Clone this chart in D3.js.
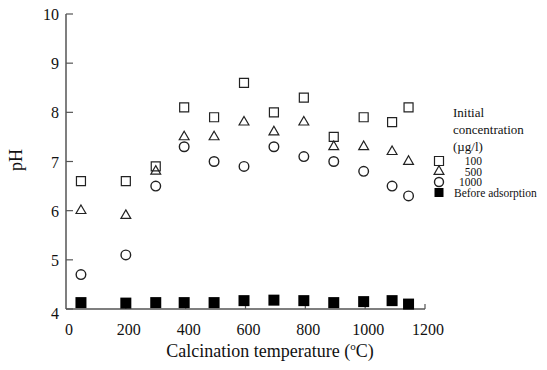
<!DOCTYPE html>
<html lang="en">
<head>
  <meta charset="UTF-8">
  <title>pH vs calcination temperature</title>
  <script src="https://d3js.org/d3.v7.min.js"></script>
  <style>
    body { margin: 0; background: #fff; }
    svg { display: block; }
    .tick-label { font: 16px "Liberation Serif", "Times New Roman", serif; fill: #111; }
    .axis-title { font: 18px "Liberation Serif", "Times New Roman", serif; fill: #111; }
    .legend { font: 13px "Liberation Serif", "Times New Roman", serif; fill: #111; }
    .legend-item { font: 11.5px "Liberation Serif", "Times New Roman", serif; fill: #111; }
  </style>
</head>
<body>
  <script>
    // temperatures (ºC)
    const temps = [50, 200, 300, 395, 495, 595, 695, 795, 895, 995, 1090, 1145];
    // pH after adsorption, by initial concentration (µg/l)
    const ph100  = [6.6, 6.6, 6.9, 8.1, 7.9, 8.6, 8.0, 8.3, 7.5, 7.9, 7.8, 8.1];
    const ph500  = [6.0, 5.9, 6.8, 7.5, 7.5, 7.8, 7.6, 7.8, 7.3, 7.3, 7.2, 7.0];
    const ph1000 = [4.7, 5.1, 6.5, 7.3, 7.0, 6.9, 7.3, 7.1, 7.0, 6.8, 6.5, 6.3];
    const phBefore = [4.13, 4.12, 4.13, 4.13, 4.13, 4.17, 4.18, 4.17, 4.13, 4.15, 4.17, 4.1];
    const xTicks = [0, 200, 400, 600, 800, 1000, 1200];
    const yTicks = [4, 5, 6, 7, 8, 9, 10];
    const legendTitle = ["Initial", "concentration", "(µg/l)"];
    const legendLabels = ["100", "500", "1000", "Before adsorption"];

    const W = 547, H = 370;
    const svg = d3.select("body").append("svg").attr("width", W).attr("height", H);

    const x = d3.scaleLinear().domain([0, 1200]).range([66, 425]);
    const y = d3.scaleLinear().domain([4, 10]).range([309, 14]);

    const axisColor = "#555";

    // axes lines
    svg.append("line").attr("x1", x(0)).attr("x2", x(0)).attr("y1", y(10)).attr("y2", y(4))
      .attr("stroke", axisColor).attr("stroke-width", 1.5);
    svg.append("line").attr("x1", x(0)).attr("x2", x(1200)).attr("y1", y(4)).attr("y2", y(4))
      .attr("stroke", axisColor).attr("stroke-width", 1.5);

    // y ticks (inward)
    svg.append("g").selectAll("line").data(yTicks).join("line")
      .attr("x1", x(0)).attr("x2", x(0) + 7)
      .attr("y1", d => y(d)).attr("y2", d => y(d))
      .attr("stroke", axisColor).attr("stroke-width", 1.2);
    svg.append("g").selectAll("text").data(yTicks).join("text")
      .attr("class", "tick-label")
      .attr("x", x(0) - 7).attr("y", d => y(d) + (d === 4 ? 10 : 6))
      .attr("text-anchor", "end")
      .text(d => d);

    // x ticks (inward)
    svg.append("g").selectAll("line").data(xTicks.slice(1)).join("line")
      .attr("x1", d => x(d)).attr("x2", d => x(d))
      .attr("y1", y(4)).attr("y2", y(4) - 5)
      .attr("stroke", axisColor).attr("stroke-width", 1.2);
    svg.append("g").selectAll("text").data(xTicks).join("text")
      .attr("class", "tick-label")
      .attr("x", d => x(d) + 3).attr("y", 335)
      .attr("text-anchor", "middle")
      .text(d => d);

    // axis titles
    const xt = svg.append("text").attr("class", "axis-title")
      .attr("x", 270).attr("y", 357).attr("text-anchor", "middle");
    xt.append("tspan").text("Calcination temperature (");
    xt.append("tspan").attr("dy", -7).attr("font-size", 11).text("o");
    xt.append("tspan").attr("dy", 7).text("C)");

    svg.append("text").attr("class", "axis-title")
      .attr("transform", `translate(22, 160) rotate(-90)`)
      .attr("text-anchor", "middle")
      .text("pH");

    // markers
    const sq = d3.symbol().type(d3.symbolSquare).size(81);
    const tri = d3.symbol().type(d3.symbolTriangle).size(42);

    const g = svg.append("g");
    g.selectAll(".s100").data(temps).join("path")
      .attr("d", sq)
      .attr("transform", (d, i) => `translate(${x(d)},${y(ph100[i])})`)
      .attr("fill", "#fff").attr("stroke", "#222").attr("stroke-width", 1.2);
    g.selectAll(".s500").data(temps).join("path")
      .attr("d", tri)
      .attr("transform", (d, i) => `translate(${x(d)},${y(ph500[i])})`)
      .attr("fill", "none").attr("stroke", "#222").attr("stroke-width", 1.2);
    g.selectAll(".s1000").data(temps).join("circle")
      .attr("cx", d => x(d)).attr("cy", (d, i) => y(ph1000[i])).attr("r", 4.8)
      .attr("fill", "none").attr("stroke", "#222").attr("stroke-width", 1.4);
    g.selectAll(".sbefore").data(temps).join("rect")
      .attr("x", d => x(d) - 5.5).attr("y", (d, i) => y(phBefore[i]) - 5.5)
      .attr("width", 11).attr("height", 11)
      .attr("fill", "#000");

    // legend
    const lg = svg.append("g");
    lg.selectAll("text.title").data(legendTitle).join("text")
      .attr("class", "legend")
      .attr("x", 453).attr("y", (d, i) => 117 + i * 17)
      .text(d => d);

    const ly = [161, 171.5, 182, 192.5];
    lg.append("path").attr("d", sq).attr("transform", `translate(439,${ly[0]})`)
      .attr("fill", "#fff").attr("stroke", "#222").attr("stroke-width", 1.2);
    lg.append("path").attr("d", tri).attr("transform", `translate(439,${ly[1]})`)
      .attr("fill", "none").attr("stroke", "#222").attr("stroke-width", 1.2);
    lg.append("circle").attr("cx", 439).attr("cy", ly[2]).attr("r", 4.5)
      .attr("fill", "none").attr("stroke", "#222").attr("stroke-width", 1.4);
    lg.append("rect").attr("x", 434.5).attr("y", ly[3] - 4.5).attr("width", 9).attr("height", 9)
      .attr("fill", "#000");

    lg.selectAll("text.item").data(legendLabels).join("text")
      .attr("class", "legend-item")
      .attr("x", (d, i) => i < 3 ? 482 : 454)
      .attr("y", (d, i) => ly[i] + 4)
      .attr("text-anchor", (d, i) => i < 3 ? "end" : "start")
      .text(d => d);
  </script>
</body>
</html>
